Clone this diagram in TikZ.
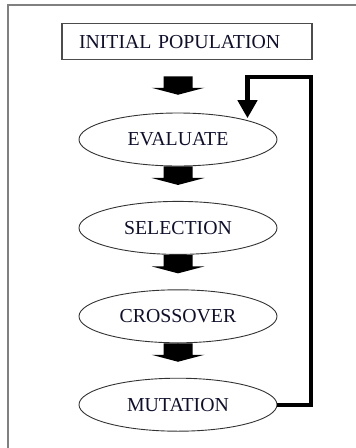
\documentclass[tikz,border=0pt]{standalone}
\usepackage{fontspec}
\setmainfont{Liberation Serif}
\usetikzlibrary{arrows.meta,%
                shapes,positioning}
\definecolor{inkblue}{RGB}{15,15,45}

\begin{document}
\begin{tikzpicture}[x=1pt, y=-1pt]
  \tikzset{BoxStyle/.style   = {shape          = rectangle,
                                draw           = black!70,
                                line width     = 1.2pt,
                                text           = inkblue,
                                font           = \fontsize{19.8}{23}\selectfont,
                                inner xsep     = 17pt,
                                inner ysep     = 0pt,
                                text width     = 216pt,
                                align          = left,
                                minimum height = 36pt},
           StageStyle/.style = {shape          = ellipse,
                                draw           = black!80,
                                line width     = 0.9pt,
                                text           = inkblue,
                                font           = \fontsize{19.8}{23}\selectfont,
                                inner sep      = 0pt,
                                minimum width  = 198pt,
                                minimum height = 53pt},
           FrameStyle/.style = {draw = black!50, line width = 1.3pt},
           LoopStyle/.style  = {line width = 4.3pt, -{Triangle[width=19pt,length=18pt]}},
           BlockArrow/.pic   = {\fill (-14.5,0) -- (14.5,0) -- (14.5,11.5) -- (26.5,11.5)
                                   -- (0,18.5) -- (-26.5,11.5) -- (-14.5,11.5) -- cycle;}}
  \useasboundingbox (0,0) rectangle (356,448);
  %%% FRAME %%%
  \draw[FrameStyle] (356,5) -- (8,5) -- (8,448);
  %%% STAGES %%%
  \node[BoxStyle] (init) at (187,41.7) {INITIAL POPULATION};
  \node[StageStyle] (eval) at (178,139.5) {EVALUATE};
  \tikzset{node distance = 34.5pt}
  \node[StageStyle, below=of eval] (sel) {SELECTION};
  \node[StageStyle, below=of sel] (cross) {CROSSOVER};
  \node[StageStyle, below=of cross] (mut) {MUTATION};
  %%% BLOCK ARROWS %%%
  \pic at ([yshift=36.3pt]eval.north) {BlockArrow};
  \pic at (eval.south) {BlockArrow};
  \pic at (sel.south) {BlockArrow};
  \pic at (cross.south) {BlockArrow};
  %%% LOOP BACK %%%
  \coordinate (turn) at (311,76.7);
  \draw[LoopStyle] (mut.east) -| (turn) -| ++(-63.5,41.5);
\end{tikzpicture}
\end{document}
